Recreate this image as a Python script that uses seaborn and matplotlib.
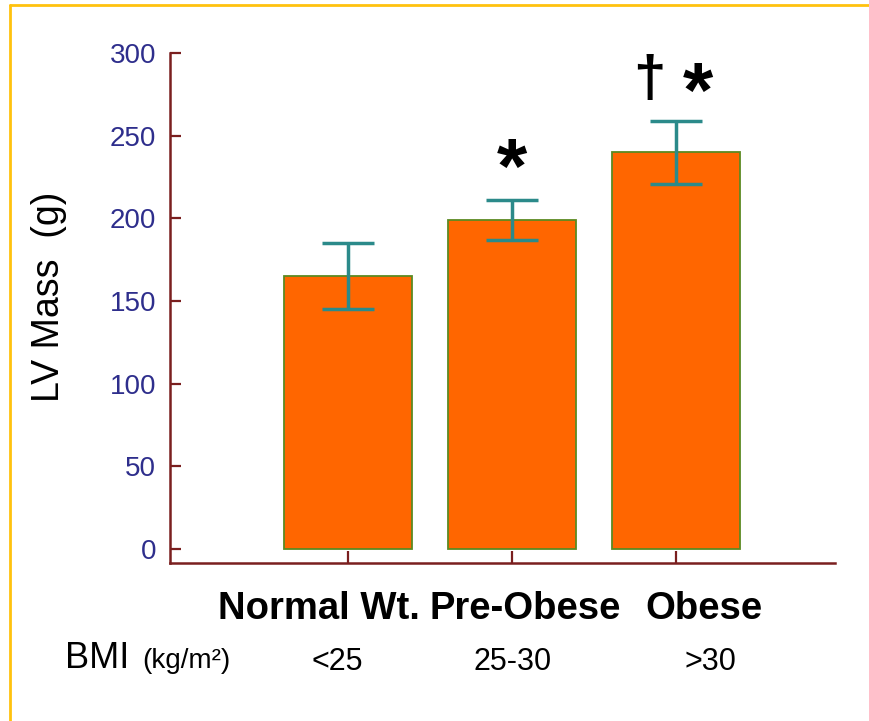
import matplotlib
matplotlib.use("Agg")
import matplotlib.pyplot as plt
import seaborn as sns
import pandas as pd
from matplotlib.lines import Line2D

# ---- data ----
groups = ["Normal Wt.", "Pre-Obese", "Obese"]
bmi_ranges = ["<25", "25-30", ">30"]
lv_mass = [165, 199, 240]
lv_err = [20, 12, 19]
yticks = [0, 50, 100, 150, 200, 250, 300]

# ---- style ----
sns.set_theme(style="white")
plt.rcParams['font.family'] = ['Liberation Sans', 'DejaVu Sans']

W, H = 869, 721
fig = plt.figure(figsize=(W / 100, H / 100), dpi=100)
fig.patch.set_facecolor("white")

# axes placement in pixels
ax_l, ax_r, ax_t, ax_b = 170, 835, 53, 563
ax = fig.add_axes([ax_l / W, 1 - ax_b / H, (ax_r - ax_l) / W, (ax_b - ax_t) / H])

df = pd.DataFrame({"group": groups, "mass": lv_mass})
sns.barplot(data=df, x="group", y="mass", ax=ax, color="#FF6600", saturation=1,
            width=0.78, edgecolor="#5C8A22", linewidth=1.3, errorbar=None)
ax.errorbar(range(len(groups)), lv_mass, yerr=lv_err, fmt="none",
            ecolor="#2B8A8A", elinewidth=2.5, capsize=19, capthick=2.5, zorder=5)

spine_c = "#7A1F1F"
for s in ["top", "right"]:
    ax.spines[s].set_visible(False)
for s in ["left", "bottom"]:
    ax.spines[s].set_color(spine_c)
    ax.spines[s].set_linewidth(1.8)

ax.set_xlim(-1.085, 2.97)
ax.set_ylim(-8.5, 300)
ax.set_yticks(yticks)
ax.set_yticklabels([str(v) for v in yticks])
ax.tick_params(axis="y", direction="in", length=8, width=1.6, color=spine_c,
               labelcolor="#2E2E8C", labelsize=20, pad=10, left=True)
ax.tick_params(axis="x", direction="in", length=9, width=1.6, color=spine_c,
               labelbottom=False, bottom=True)
ax.set_xlabel("")
ax.set_ylabel("")
ax.grid(False)
ax.set_facecolor("white")

# significance marks
ax.text(1.0, 228, "*", ha="center", va="center", fontsize=56, fontweight="bold", color="black")
ax.text(1.84, 283, "\u2020", ha="center", va="center", fontsize=42, fontweight="bold", color="black")
ax.text(2.134, 274, "*", ha="center", va="center", fontsize=56, fontweight="bold", color="black")

# y label
fig.text(49 / W, 1 - 297 / H, "LV Mass  (g)", rotation=90, ha="center", va="center",
         fontsize=27, color="black")

# category labels
for name, xc in zip(groups, [319, 525, 704]):
    fig.text(xc / W, 1 - 619 / H, name, ha="center", va="baseline",
             fontsize=27.5, fontweight="bold", color="black")

# BMI row
fig.text(65 / W, 1 - 668 / H, "BMI", ha="left", va="baseline", fontsize=26, color="black")
fig.text(142 / W, 1 - 668 / H, "(kg/m\u00b2)", ha="left", va="baseline", fontsize=20, color="black")
for rng, xc in zip(bmi_ranges, [337, 513, 710]):
    fig.text(xc / W, 1 - 670 / H, rng, ha="center", va="baseline", fontsize=22, color="black")

# yellow frame (top and left)
frame_c = "#FFC20E"
fig.add_artist(Line2D([10 / W, 1], [1 - 5 / H, 1 - 5 / H], transform=fig.transFigure, color=frame_c, lw=2))
fig.add_artist(Line2D([10 / W, 10 / W], [0, 1 - 5 / H], transform=fig.transFigure, color=frame_c, lw=2))

fig.savefig("out.png", dpi=100, facecolor="white")
